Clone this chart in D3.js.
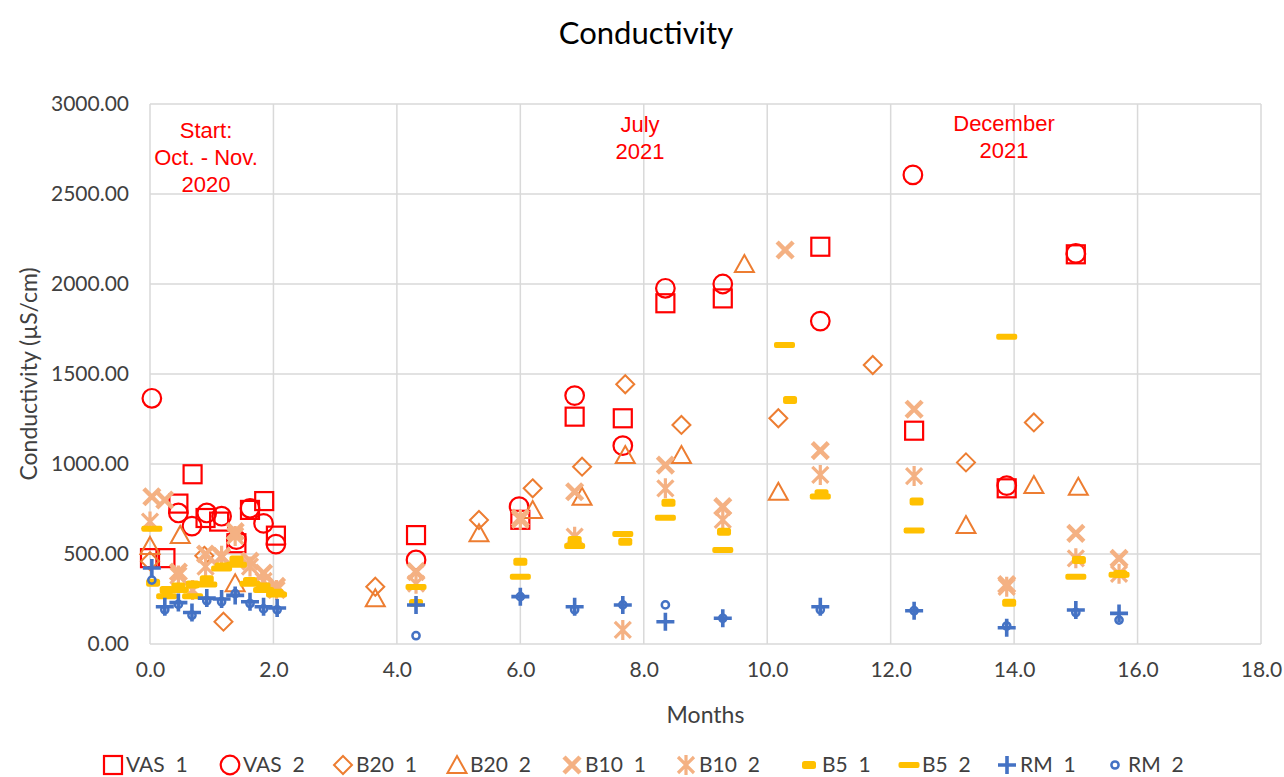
<!DOCTYPE html>
<html>
<head>
<meta charset="utf-8">
<script src="https://cdn.jsdelivr.net/npm/d3@7"></script>
<style>
  body { margin: 0; background: #fff; }
  text { font-family: Lato, "Noto Sans", sans-serif; fill: #404040; }
</style>
</head>
<body>
<div id="vis"></div>
<script>
// data: [months, conductivity µS/cm]
const vas1 = [[0,477],[0.25,477],[0.46,780],[0.69,943],[0.9,700],[1.12,680],[1.4,560],[1.62,745],[1.85,794],[2.04,602],
  [4.31,605],[6.0,690],[6.88,1263],[7.66,1254],[8.35,1893],[9.28,1920],[10.86,2207],[12.38,1185],[13.88,865],[15.0,2165]]
const vas2 = [[0.03,1365],[0.46,728],[0.68,655],[0.92,728],[1.16,710],[1.4,580],[1.62,754],[1.84,670],[2.04,555],
  [4.31,467],[5.98,763],[6.88,1380],[7.66,1102],[8.35,1976],[9.28,2000],[10.86,1794],[12.36,2606],[13.88,880],[15.0,2170]]
const b20a = [[0.0,460],[0.88,490],[1.19,124],[3.65,318],[5.33,689],[6.2,865],[7.0,985],[7.7,1443],[8.61,1217],
  [10.18,1254],[11.71,1550],[13.22,1009],[14.32,1231]]
const b20b = [[0.0,545],[0.49,606],[1.38,337],[3.65,254],[5.33,615],[6.2,744],[7.0,818],[7.7,1050],[8.61,1050],
  [9.63,2111],[10.18,846],[13.22,661],[14.32,883],[15.04,874]]
const b10a = [[0.03,818],[0.24,800],[0.46,400],[0.9,500],[1.16,485],[1.38,624],[1.62,460],[1.84,394],[2.05,320],
  [4.31,402],[6.0,700],[6.88,846],[8.35,994],[9.28,763],[10.29,2189],[10.86,1074],[12.38,1304],[13.88,330],[15.0,615],[15.7,476]]
const b10b = [[0.0,680],[0.46,380],[0.69,300],[0.9,430],[1.16,490],[1.38,600],[1.62,430],[1.84,350],[2.05,300],
  [4.31,335],[6.0,690],[6.88,596],[7.66,78],[8.35,865],[9.28,689],[10.86,939],[12.38,933],[13.88,318],[15.0,476],[15.7,390]]
const b5a = [[0.05,340],[0.27,300],[0.46,320],[0.69,330],[0.92,360],[1.16,430],[1.4,470],[1.62,350],[1.84,320],[2.05,285],
  [4.31,228],[6.0,457],[6.88,578],[7.7,568],[8.4,785],[9.3,624],[10.37,1356],[10.88,837],[12.42,791],[13.92,229],[15.05,467],[15.72,389]]
const b5b = [[0.03,640],[0.27,265],[0.46,300],[0.69,265],[0.92,330],[1.16,420],[1.4,440],[1.62,335],[1.84,300],[2.05,275],
  [4.31,317],[6.0,374],[6.88,544],[7.66,611],[8.35,702],[9.28,522],[10.28,1661],[10.86,820],[12.38,630],[13.88,1707],[15.0,374],[15.7,385]]
const rm1 = [[0.03,422],[0.24,207],[0.46,230],[0.68,175],[0.92,255],[1.16,250],[1.38,270],[1.62,235],[1.84,207],[2.06,200],
  [4.31,217],[6.0,263],[6.88,207],[7.66,217],[8.35,124],[9.28,143],[10.86,207],[12.38,185],[13.88,90],[15.0,189],[15.7,170]]
const rm2 = [[0.03,355],[0.24,190],[0.46,220],[0.68,160],[0.92,240],[1.16,235],[1.38,280],[1.62,225],[1.84,195],[2.06,190],
  [4.31,46],[6.0,263],[6.88,190],[7.66,217],[8.35,217],[9.28,143],[10.86,190],[12.38,185],[13.88,100],[15.0,175],[15.7,133]]

const seriesNames = ['VAS  1','VAS  2','B20  1','B20  2','B10  1','B10  2','B5  1','B5  2','RM  1','RM  2']
const xTicks = [0,2,4,6,8,10,12,14,16,18]
const yTicks = [0,500,1000,1500,2000,2500,3000]

let series = [
  {name: seriesNames[0], data: vas1, shape: 'square', color: '#FF0000'},
  {name: seriesNames[1], data: vas2, shape: 'circle', color: '#FF0000'},
  {name: seriesNames[2], data: b20a, shape: 'diamond', color: '#ED7D31'},
  {name: seriesNames[3], data: b20b, shape: 'triangle', color: '#ED7D31'},
  {name: seriesNames[4], data: b10a, shape: 'x', color: '#F4B183'},
  {name: seriesNames[5], data: b10b, shape: 'star', color: '#F4B183'},
  {name: seriesNames[6], data: b5a, shape: 'shortdash', color: '#FFC000'},
  {name: seriesNames[7], data: b5b, shape: 'longdash', color: '#FFC000'},
  {name: seriesNames[8], data: rm1, shape: 'plus', color: '#4472C4'},
  {name: seriesNames[9], data: rm2, shape: 'dot', color: '#4472C4'}
]

let width = 1284, height = 777
let margin = {top: 104, left: 150, right: 23, bottom: 133}

let svg = d3.select('#vis')
  .append('svg')
  .attr('width', width)
  .attr('height', height)

let xScale = d3.scaleLinear().domain([0, 18]).range([margin.left, width - margin.right])
let yScale = d3.scaleLinear().domain([0, 3000]).range([height - margin.bottom, margin.top])

// gridlines
svg.append('g')
  .selectAll('line.v')
  .data(xTicks)
  .enter().append('line')
  .attr('x1', d => xScale(d)).attr('x2', d => xScale(d))
  .attr('y1', yScale(0)).attr('y2', yScale(3000))
  .attr('stroke', '#d9d9d9').attr('stroke-width', 1.5)
svg.append('g')
  .selectAll('line.h')
  .data(yTicks)
  .enter().append('line')
  .attr('x1', xScale(0)).attr('x2', xScale(18))
  .attr('y1', d => yScale(d)).attr('y2', d => yScale(d))
  .attr('stroke', '#d9d9d9').attr('stroke-width', 1.5)

// axes (labels only, Excel style)
let xAxis = svg.append('g')
  .attr('transform', 'translate(0,' + (yScale(0) + 12) + ')')
  .call(d3.axisBottom(xScale).tickValues(xTicks).tickFormat(d3.format('.1f')).tickSize(0))
xAxis.select('.domain').remove()
xAxis.selectAll('text').style('font-size', '21px').attr('dy', '0.85em')

let yAxis = svg.append('g')
  .attr('transform', 'translate(' + (xScale(0) - 21) + ',0)')
  .call(d3.axisLeft(yScale).tickValues(yTicks).tickFormat(d3.format('.2f')).tickSize(0))
yAxis.select('.domain').remove()
yAxis.selectAll('text').style('font-size', '21px').attr('x', 0)

// titles
svg.append('text')
  .attr('x', 646).attr('y', 44)
  .attr('text-anchor', 'middle')
  .style('font-size', '31px').style('fill', '#000')
  .text('Conductivity')
svg.append('text')
  .attr('x', (xScale(0) + xScale(18)) / 2).attr('y', 723)
  .attr('text-anchor', 'middle')
  .style('font-size', '23px')
  .text('Months')
svg.append('text')
  .attr('transform', 'translate(29,' + (yScale(1500)) + ') rotate(-90)')
  .attr('text-anchor', 'middle')
  .attr('dy', '0.35em')
  .style('font-size', '23px')
  .text('Conductivity (µS/cm)')

// red annotations
let notes = [
  {x: 206, lines: ['Start:', 'Oct. - Nov.', '2020'], y: 130},
  {x: 640, lines: ['July', '2021'], y: 124},
  {x: 1004, lines: ['December', '2021'], y: 123}
]
notes.forEach(function (n) {
  n.lines.forEach(function (l, i) {
    svg.append('text')
      .attr('x', n.x).attr('y', n.y + i * 27)
      .attr('dy', '0.35em')
      .attr('text-anchor', 'middle')
      .style('font-family', '"Liberation Sans", Arial, sans-serif')
      .style('font-size', '22px')
      .style('fill', '#FF0000')
      .text(l)
  })
})

// marker drawing
function marker(g, shape, color) {
  if (shape === 'square') {
    g.append('rect').attr('x', -9).attr('y', -9).attr('width', 18).attr('height', 18)
      .attr('fill', 'none').attr('stroke', color).attr('stroke-width', 2.2)
  } else if (shape === 'circle') {
    g.append('circle').attr('r', 9.3)
      .attr('fill', 'none').attr('stroke', color).attr('stroke-width', 2.2)
  } else if (shape === 'diamond') {
    g.append('path').attr('d', 'M0,-9L9,0L0,9L-9,0Z')
      .attr('fill', 'none').attr('stroke', color).attr('stroke-width', 2)
  } else if (shape === 'triangle') {
    g.append('path').attr('d', 'M0,-9L9.5,8L-9.5,8Z')
      .attr('fill', 'none').attr('stroke', color).attr('stroke-width', 2).attr('stroke-linejoin', 'miter')
  } else if (shape === 'x') {
    g.append('path').attr('d', 'M-8,-8L8,8M8,-8L-8,8')
      .attr('stroke', color).attr('stroke-width', 4.5)
  } else if (shape === 'star') {
    g.append('path').attr('d', 'M-8,-8L8,8M8,-8L-8,8M0,-10L0,10')
      .attr('stroke', color).attr('stroke-width', 3.2)
  } else if (shape === 'shortdash') {
    g.append('rect').attr('x', -7).attr('y', -4).attr('width', 14).attr('height', 8).attr('rx', 2.5)
      .attr('fill', color)
  } else if (shape === 'longdash') {
    g.append('rect').attr('x', -10.5).attr('y', -3).attr('width', 21).attr('height', 6).attr('rx', 2)
      .attr('fill', color)
  } else if (shape === 'plus') {
    g.append('path').attr('d', 'M-9,0L9,0M0,-9L0,9')
      .attr('stroke', color).attr('stroke-width', 3.6)
  } else if (shape === 'dot') {
    g.append('circle').attr('r', 3.6)
      .attr('fill', 'none').attr('stroke', color).attr('stroke-width', 2.5)
  }
}

// points
series.forEach(function (s) {
  svg.append('g')
    .selectAll('g')
    .data(s.data)
    .enter().append('g')
    .attr('transform', d => 'translate(' + xScale(d[0]) + ',' + yScale(d[1]) + ')')
    .each(function () { marker(d3.select(this), s.shape, s.color) })
})

// legend
let legendX = [113, 230, 343, 457, 572, 686, 809, 909, 1007, 1115]
let legend = svg.append('g')
series.forEach(function (s, i) {
  let item = legend.append('g').attr('transform', 'translate(' + legendX[i] + ',765)')
  let m = item.append('g')
  marker(m, s.shape, s.color)
  item.append('text')
    .attr('x', 13).attr('dy', '0.35em')
    .style('font-size', '21px')
    .style('white-space', 'pre')
    .attr('xml:space', 'preserve')
    .text(s.name)
})
</script>
</body>
</html>
